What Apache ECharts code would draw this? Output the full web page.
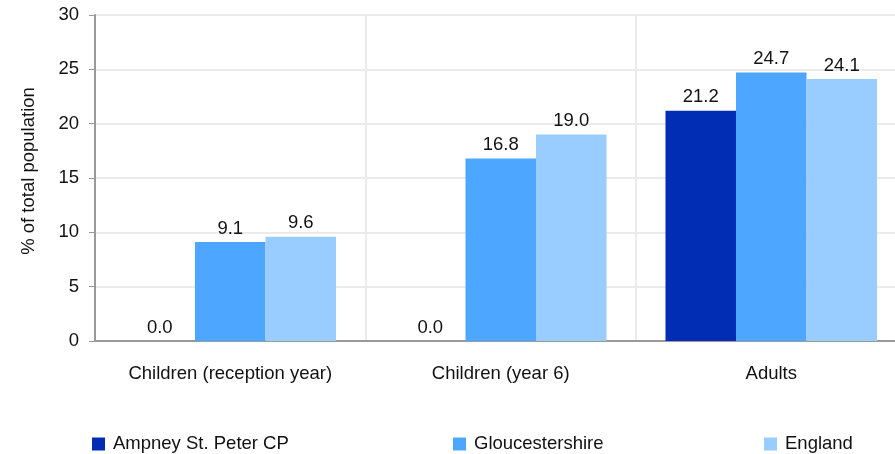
<!DOCTYPE html>
<html><head><meta charset="utf-8">
<script src="https://cdn.jsdelivr.net/npm/echarts@6/dist/echarts.min.js"></script>
<style>html,body{margin:0;padding:0;background:#fff;overflow:hidden;width:895px;height:454px}#c{width:907px;height:454px}</style>
</head><body><div id="c"></div>
<script>
const categories = ["Children (reception year)", "Children (year 6)", "Adults"];
const seriesNames = ["Ampney St. Peter CP", "Gloucestershire", "England"];
const ampney = [0.0, 0.0, 21.2];
const gloucestershire = [9.1, 16.8, 24.7];
const england = [9.6, 19.0, 24.1];
const colors = ["#002db3", "#4da6ff", "#99ccff"];
const font = "'Liberation Sans', Arial, sans-serif";
const values = [ampney, gloucestershire, england];

const chart = echarts.init(document.getElementById('c'), null, {renderer: 'canvas'});
chart.setOption({
  animation: false,
  textStyle: {fontFamily: font},
  grid: {left: 95, right: 0.5, top: 15, bottom: 113, containLabel: false},
  legend: [0, 1, 2].map((i) => ({
    data: [seriesNames[i]],
    left: [92, 453, 764][i],
    top: 434.5,
    padding: 0,
    itemWidth: 13, itemHeight: 13,
    icon: 'rect',
    textStyle: {fontFamily: font, fontSize: 18.5, color: '#111', padding: [0, 0, 0, 3]}
  })),
  xAxis: {
    type: 'category',
    data: categories,
    axisLine: {lineStyle: {color: '#999', width: 2}},
    axisTick: {show: false},
    axisLabel: {fontFamily: font, fontSize: 18.5, color: '#111', margin: 23},
    splitLine: {show: true, lineStyle: {color: '#ebebeb', width: 2}}
  },
  yAxis: {
    type: 'value',
    min: 0, max: 30, interval: 5,
    name: '% of total population',
    nameLocation: 'middle',
    nameGap: 57,
    nameTextStyle: {fontFamily: font, fontSize: 18.5, color: '#111', padding: [0, 0, 0, 14]},
    axisLine: {show: true, lineStyle: {color: '#999', width: 2}},
    axisTick: {show: true, length: 6, lineStyle: {color: '#999', width: 1}},
    axisLabel: {fontFamily: font, fontSize: 18.5, color: '#111', margin: 16},
    splitLine: {show: true, lineStyle: {color: '#ebebeb', width: 2}}
  },
  series: [0, 1, 2].map((i) => ({
    name: seriesNames[i],
    type: 'bar',
    data: values[i],
    barGap: '0%',
    barCategoryGap: '21.8%',
    itemStyle: {color: colors[i]},
    label: {
      show: true, position: 'top', distance: 4,
      fontFamily: font, fontSize: 18.5, color: '#111',
      formatter: (p) => p.value.toFixed(1)
    }
  }))
});
</script></body></html>
